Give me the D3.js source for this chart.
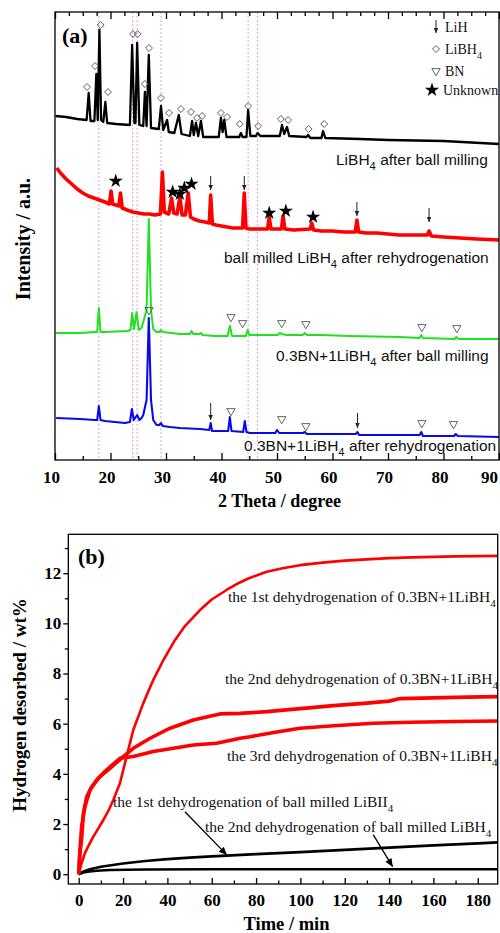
<!DOCTYPE html>
<html>
<head>
<meta charset="utf-8">
<script src="https://cdn.jsdelivr.net/npm/d3@7"></script>
<style>
body { margin: 0; background: #fff; }
svg { display: block; }
</style>
</head>
<body>
<div id="chart"></div>
<script>
/*
    (a) XRD patterns, (b) dehydrogenation curves
 */

// ---- panel (a) data: [2theta, intensity a.u.] ----
var xrd_libh4_milled = [
    [10.1, 344], [12, 343], [14, 341], [15.7, 340], [16.07, 367], [16.4, 339], [17.1, 339], [17.45, 386],
    [17.7, 340], [18.0, 430], [18.3, 340], [18.7, 338], [19.07, 358], [19.4, 337], [21, 336], [23.5, 335],
    [23.9, 415], [24.3, 337], [24.5, 337], [24.8, 417], [25.2, 335], [25.9, 334], [26.2, 368], [26.5, 334],
    [26.9, 405], [27.3, 332], [28.7, 331], [29.1, 354], [29.5, 330], [30.2, 340], [30.5, 328], [31.5, 327],
    [32.3, 345], [32.8, 326], [34.3, 324], [34.7, 339], [35.0, 325], [35.4, 337], [35.8, 324], [36.3, 339],
    [36.7, 323], [39.5, 323], [39.9, 342], [40.2, 328], [40.5, 340], [40.9, 323], [43.2, 323], [43.5, 327],
    [43.8, 323], [44.5, 323], [44.8, 350], [45.2, 324], [46.2, 324], [46.5, 327], [47, 324], [50.5, 324],
    [50.9, 335], [51.3, 326], [51.8, 333], [52.2, 324], [55.3, 323], [55.6, 325], [56, 322], [58.0, 322],
    [58.3, 329], [58.7, 322], [65, 321], [70, 320], [80, 319], [90, 316]
];
var xrd_libh4_rehyd = [
    [10.3, 292], [11, 287], [12, 281], [13, 276], [14, 271], [15, 267], [16, 264], [17, 262], [18, 260],
    [19, 258], [19.8, 256], [20.1, 269], [20.4, 256], [21.5, 254], [21.8, 267], [22.1, 252], [23, 250],
    [24, 248], [25, 247], [26, 246], [27, 246], [28, 245], [29.0, 246], [29.35, 288], [29.7, 248], [30.5, 246],
    [31.0, 262], [31.4, 247], [32.0, 246], [32.5, 263], [32.9, 245], [33.5, 245], [34.0, 267], [34.4, 243],
    [35, 241], [36, 239], [37, 238], [37.8, 237], [38.05, 265], [38.35, 236], [39, 235], [40, 234], [41, 233],
    [42, 232], [43.8, 232], [44.1, 267], [44.4, 232], [45, 231], [46, 231], [48.3, 231], [48.6, 243],
    [48.9, 231], [50.8, 231], [51.1, 244], [51.4, 231], [53, 230], [56, 231], [56.25, 237], [56.6, 230],
    [58, 229], [60, 229], [62, 228], [64.1, 228], [64.4, 240], [64.7, 228], [66, 227], [68, 227], [70, 226],
    [72, 225], [74, 225], [77.1, 225], [77.4, 229], [77.8, 224], [80, 223], [83, 222], [86, 221], [90, 220]
];
var xrd_bn_milled = [
    [10.1, 127], [14.5, 127], [17.2, 128], [17.6, 128], [17.9, 152], [18.2, 128], [19, 128], [23.1, 129],
    [23.6, 130], [23.9, 147], [24.25, 131], [24.7, 148], [25.1, 130], [25.6, 132], [26.1, 142], [26.5, 150],
    [26.9, 241], [27.3, 150], [27.7, 131], [28.3, 128], [28.8, 128], [29.1, 130], [29.4, 128], [31, 127],
    [32.5, 126], [34.3, 126], [34.6, 129], [34.9, 126], [36.0, 126], [36.3, 127], [36.6, 125], [38.8, 124],
    [41.1, 124], [41.5, 134], [41.9, 124], [43, 124], [44.4, 124], [44.7, 130], [45.0, 125], [47, 125],
    [50.1, 125], [50.5, 127], [50.9, 126], [51.7, 125], [54.6, 125], [55, 127], [55.4, 125], [58.2, 125],
    [63, 124], [72, 123], [75.7, 122], [76, 125], [76.3, 122], [82, 121], [82.3, 123], [82.7, 121], [90, 121]
];
var xrd_bn_rehyd = [
    [10.2, 42], [14.5, 41], [17.2, 40], [17.6, 40], [17.9, 54], [18.2, 40], [19.0, 39], [22.6, 37],
    [23.5, 38], [23.85, 51], [24.2, 40], [24.8, 45], [25.2, 40], [25.6, 42], [25.9, 45], [26.5, 60],
    [26.9, 142], [27.3, 60], [27.7, 40], [28.3, 35], [28.8, 35], [29.1, 37], [29.4, 34], [30.7, 33],
    [32.5, 32], [36.1, 31], [37.8, 30], [38.05, 37], [38.3, 29], [41.2, 29], [41.5, 43], [41.8, 29],
    [43.9, 28], [44.2, 39], [44.5, 28], [45.1, 27], [49.7, 27], [50, 30], [50.4, 27], [54.7, 27],
    [55, 28], [55.4, 26], [59.8, 26], [64.2, 26], [64.5, 28], [64.8, 25], [72.2, 25], [75.7, 25],
    [76, 28], [76.3, 24], [81.9, 24], [82.2, 26], [82.6, 24], [90, 23]
];
var texts_a = [
    { parts: [['LiBH'], ['4', 1], [' after ball milling']], x: 336, y: 165 },
    { parts: [['ball milled LiBH'], ['4', 1], [' after rehydrogenation']], x: 224, y: 263 },
    { parts: [['0.3BN+1LiBH'], ['4', 1], [' after ball milling']], x: 276, y: 361 },
    { parts: [['0.3BN+1LiBH'], ['4', 1], [' after rehydrogenation']], x: 244, y: 451 }
];
var marks_libh4 = [
    [15.77, 373], [17.2, 394], [18.23, 435], [19.55, 368], [24.05, 426], [24.9, 426], [26.2, 376],
    [26.94, 412], [29.1, 362], [30.54, 347], [32.7, 351], [34.5, 348], [35.6, 342], [36.5, 344],
    [39.9, 347], [41.0, 343], [43.3, 336], [44.8, 354], [46.6, 334], [50.7, 341], [52.0, 340],
    [55.7, 331], [58.5, 336]
];
var marks_unknown = [
    [20.94, 279], [31.2, 268], [32.5, 266], [33.3, 272], [34.6, 276], [48.6, 247], [51.6, 249], [56.5, 243]
];
var marks_bn = [
    [26.94, 150], [41.7, 143], [43.8, 137], [50.85, 137], [55.2, 136], [76.1, 133], [82.4, 132],
    [41.7, 49], [50.85, 41], [55.2, 34], [76.1, 37], [81.8, 36]
];
// LiH arrows: [2theta, from, to]
var marks_lih = [
    [38.05, 284, 270], [44.1, 284, 270], [64.4, 258, 244], [77.4, 252, 238],
    [38.05, 57, 40], [64.5, 47, 32]
];
var guide_lines = [17.9, 24.0, 24.8, 29.1, 44.8, 46.5];
var ticks_a = [10, 20, 30, 40, 50, 60, 70, 80, 90];

// ---- panel (b) data: time / min, hydrogen / wt% ----
var t_bn_1st = [0, 1, 2.8, 4.5, 6.6, 9, 11.1, 13.5, 15.6, 18.6, 21.6, 24.6, 29.1, 33.6, 38.2, 43.4, 48, 54.7,
    60, 66.7, 72, 76.5, 84.8, 92, 99.8, 110, 120, 130, 140, 150, 160, 170, 180, 189];
var h_bn_1st = [0, 0.35, 0.84, 1.15, 1.5, 1.85, 2.16, 2.55, 2.96, 3.63, 4.69, 5.75, 6.81, 7.74, 8.54, 9.33, 9.9,
    10.53, 10.95, 11.33, 11.6, 11.79, 12.06, 12.2, 12.32, 12.42, 12.5, 12.55, 12.6, 12.63, 12.65, 12.67, 12.68, 12.69];
var t_bn_2nd = [0, 0.5, 1.3, 2.1, 3.6, 5.9, 9.6, 14.1, 20.1, 24.6, 32.2, 41.2, 51.7, 63.7, 72.8, 84.8, 100, 115,
    130, 140, 145, 160, 175, 189];
var h_bn_2nd = [0, 0.8, 1.37, 2.43, 3.09, 3.49, 3.89, 4.22, 4.69, 5.02, 5.42, 5.82, 6.15, 6.39, 6.41, 6.48, 6.6,
    6.72, 6.82, 6.9, 7.0, 7.03, 7.06, 7.08];
var t_bn_3rd = [0, 0.5, 1.3, 2.8, 5.1, 8.1, 12.6, 18.6, 24.6, 33.6, 42.7, 51.7, 62.2, 72.8, 77.3, 88, 99.8, 115,
    132.9, 150, 170, 189];
var h_bn_3rd = [0, 0.9, 1.9, 2.69, 3.36, 3.76, 4.16, 4.62, 4.69, 4.89, 5.02, 5.15, 5.22, 5.42, 5.48, 5.65, 5.82,
    5.92, 6.02, 6.06, 6.09, 6.11];
var t_bm_1st = [0, 2, 5, 10, 20, 30, 40, 50, 60, 80, 100, 120, 140, 160, 180, 189];
var h_bm_1st = [0, 0.1, 0.2, 0.3, 0.43, 0.53, 0.6, 0.66, 0.71, 0.8, 0.88, 0.97, 1.06, 1.15, 1.23, 1.27];
var t_bm_2nd = [0, 2, 4, 8, 14, 30, 60, 100, 140, 189];
var h_bm_2nd = [0, 0.07, 0.1, 0.14, 0.17, 0.19, 0.2, 0.2, 0.2, 0.2];
var ticks_b_x = [0, 20, 40, 60, 80, 100, 120, 140, 160, 180];
var ticks_b_y = [0, 2, 4, 6, 8, 10, 12];
var texts_b = [
    { parts: [['the 1st dehydrogenation of 0.3BN+1LiBH'], ['4', 1]], x: 228, y: 602 },
    { parts: [['the 2nd dehydrogenation of 0.3BN+1LiBH'], ['4', 1]], x: 225, y: 684 },
    { parts: [['the 3rd dehydrogenation of 0.3BN+1LiBH'], ['4', 1]], x: 227, y: 761 },
    { parts: [['the 1st dehydrogenation of ball milled LiBII'], ['4', 1]], x: 113, y: 807 },
    { parts: [['the 2nd dehydrogenation of ball milled LiBH'], ['4', 1]], x: 205, y: 832 }
];
// pointer arrows: [t0, h0, t1, h1]
var pointers_b = [[47.9, 2.49, 66.8, 0.77], [132.9, 1.57, 141.6, 0.3]];

var SERIF = "'Liberation Serif', 'Times New Roman', serif";
var SANS = "'Liberation Sans', Arial, sans-serif";

var svg = d3.select('#chart')
    .append('svg')
    .attr('width', 500)
    .attr('height', 933);

function add_text(g, d, font, size) {
    var t = g.append('text')
        .attr('x', d.x)
        .attr('y', d.y)
        .style('font-family', font)
        .style('font-size', size + 'px')
        .attr('fill', '#111');
    var shifted = false;
    d.parts.forEach(function(p) {
        var s = t.append('tspan').text(p[0]);
        if (p[1]) {
            s.attr('dy', 5).style('font-size', (size * 0.72) + 'px');
            shifted = true;
        } else if (shifted) {
            s.attr('dy', -5);
            shifted = false;
        }
    });
    return t;
}

function draw_arrow(g, x1, y1, x2, y2, color, width, head) {
    g.append('line')
        .attr('x1', x1).attr('y1', y1)
        .attr('x2', x2).attr('y2', y2)
        .attr('stroke', color)
        .attr('stroke-width', width);
    var ang = Math.atan2(y2 - y1, x2 - x1);
    var hl = head, hw = head * 0.45;
    var bx = x2 - hl * Math.cos(ang), by = y2 - hl * Math.sin(ang);
    g.append('path')
        .attr('d', 'M' + x2 + ',' + y2 +
            'L' + (bx + hw * Math.sin(ang)) + ',' + (by - hw * Math.cos(ang)) +
            'L' + (bx - hw * Math.sin(ang)) + ',' + (by + hw * Math.cos(ang)) + 'Z')
        .attr('fill', color);
}

/* ---------------- panel (a) ---------------- */
var x_a = d3.scaleLinear().domain([10, 90]).range([55, 499]);
var y_a = d3.scaleLinear().domain([0, 448]).range([460, 12]);

var panel_a = svg.append('g');

panel_a.selectAll('.guide')
    .data(guide_lines)
    .enter()
    .append('line')
    .classed('guide', true)
    .attr('x1', function(d) { return x_a(d); })
    .attr('x2', function(d) { return x_a(d); })
    .attr('y1', y_a.range()[1])
    .attr('y2', y_a.range()[0])
    .attr('stroke', '#e79be7')
    .attr('stroke-width', 1)
    .attr('stroke-dasharray', '2,2');

var line_a = d3.line()
    .x(function(d) { return x_a(d[0]); })
    .y(function(d) { return y_a(d[1]); });

var patterns = [
    { data: xrd_libh4_milled, color: '#000000', w: 2.3 },
    { data: xrd_libh4_rehyd, color: '#ff0000', w: 3.6 },
    { data: xrd_bn_milled, color: '#22e022', w: 2 },
    { data: xrd_bn_rehyd, color: '#0a0ae6', w: 2.1 }
];
panel_a.selectAll('.pattern')
    .data(patterns)
    .enter()
    .append('path')
    .classed('pattern', true)
    .attr('d', function(d) { return line_a(d.data); })
    .attr('fill', 'none')
    .attr('stroke', function(d) { return d.color; })
    .attr('stroke-width', function(d) { return d.w; })
    .attr('stroke-linejoin', 'round');

var diamond = d3.symbol(d3.symbolSquare, 24);
var triangle = d3.symbol(d3.symbolTriangle, 30);
var star = d3.symbol(d3.symbolStar, 62);

panel_a.selectAll('.libh4')
    .data(marks_libh4)
    .enter()
    .append('path')
    .attr('d', diamond)
    .attr('transform', function(d) { return 'translate(' + x_a(d[0]) + ',' + y_a(d[1]) + ') rotate(45)'; })
    .attr('fill', 'none')
    .attr('stroke', '#555')
    .attr('stroke-width', 0.9);

panel_a.selectAll('.bn')
    .data(marks_bn)
    .enter()
    .append('path')
    .attr('d', triangle)
    .attr('transform', function(d) { return 'translate(' + x_a(d[0]) + ',' + y_a(d[1]) + ') rotate(180)'; })
    .attr('fill', 'none')
    .attr('stroke', '#555')
    .attr('stroke-width', 0.9);

panel_a.selectAll('.unknown')
    .data(marks_unknown)
    .enter()
    .append('path')
    .attr('d', star)
    .attr('transform', function(d) { return 'translate(' + x_a(d[0]) + ',' + y_a(d[1]) + ')'; })
    .attr('fill', '#000');

marks_lih.forEach(function(d) {
    draw_arrow(panel_a, x_a(d[0]), y_a(d[1]), x_a(d[0]), y_a(d[2]), '#222', 1, 5);
});

texts_a.forEach(function(d) { add_text(panel_a, d, SANS, 15.5); });

// legend
var legend = panel_a.append('g');
draw_arrow(legend, 436, 20, 436, 33, '#222', 1, 5);
legend.append('path').attr('d', diamond).attr('transform', 'translate(436,49) rotate(45)')
    .attr('fill', 'none').attr('stroke', '#555').attr('stroke-width', 0.9);
legend.append('path').attr('d', triangle).attr('transform', 'translate(436,71) rotate(180)')
    .attr('fill', 'none').attr('stroke', '#555').attr('stroke-width', 0.9);
legend.append('path').attr('d', star).attr('transform', 'translate(432,90)').attr('fill', '#000');
[
    { parts: [['LiH']], x: 445, y: 32 },
    { parts: [['LiBH'], ['4', 1]], x: 445, y: 54 },
    { parts: [['BN']], x: 445, y: 76 },
    { parts: [['Unknown']], x: 443, y: 95 }
].forEach(function(d) { add_text(legend, d, SERIF, 14); });

// frame and ticks
panel_a.append('rect')
    .attr('x', 55).attr('y', 12)
    .attr('width', 444).attr('height', 448)
    .attr('fill', 'none')
    .attr('stroke', '#000')
    .attr('stroke-width', 1.3);

var minor_a = d3.range(15, 90, 10);
var top_minor_a = d3.range(12.5, 90, 2.5).filter(function(v) { return v % 10 !== 0; });

var axis_a_bottom = svg.append('g')
    .attr('transform', 'translate(0,460)')
    .call(d3.axisBottom(x_a).tickValues(ticks_a).tickSizeInner(-7).tickSizeOuter(0).tickPadding(11));
axis_a_bottom.append('g')
    .call(d3.axisBottom(x_a).tickValues(minor_a).tickSizeInner(-4).tickSizeOuter(0).tickFormat(''));

var axis_a_top = svg.append('g')
    .attr('transform', 'translate(0,12)')
    .call(d3.axisTop(x_a).tickValues(ticks_a).tickSizeInner(-7).tickSizeOuter(0).tickFormat(''));
axis_a_top.append('g')
    .call(d3.axisTop(x_a).tickValues(top_minor_a).tickSizeInner(-4).tickSizeOuter(0).tickFormat(''));

svg.selectAll('.domain').remove();
axis_a_bottom.selectAll('.tick line').attr('stroke-width', 1.3);
axis_a_top.selectAll('.tick line').attr('stroke-width', 1.3);
axis_a_bottom.selectAll('text')
    .attr('dx', function(d) { return d === 90 ? -10 : -4; })
    .style('font-family', SERIF)
    .style('font-size', '17px')
    .style('font-weight', 'bold')
    .attr('fill', '#000');

panel_a.append('text')
    .attr('x', 279.5).attr('y', 507)
    .attr('text-anchor', 'middle')
    .style('font-family', SERIF).style('font-size', '18px').style('font-weight', 'bold')
    .text('2 Theta / degree');

panel_a.append('text')
    .attr('transform', 'translate(30,239) rotate(-90)')
    .attr('text-anchor', 'middle')
    .style('font-family', SERIF).style('font-size', '20px').style('font-weight', 'bold')
    .text('Intensity / a.u.');

panel_a.append('text')
    .attr('x', 62).attr('y', 43)
    .style('font-family', SERIF).style('font-size', '22px').style('font-weight', 'bold')
    .text('(a)');

/* ---------------- panel (b) ---------------- */
var x_b = d3.scaleLinear().domain([-4.7, 189]).range([68.3, 497.7]);
var y_b = d3.scaleLinear().domain([-0.39, 13.55]).range([884, 534.3]);

var panel_b = svg.append('g');

var line_b = d3.line()
    .x(function(d) { return x_b(d[0]); })
    .y(function(d) { return y_b(d[1]); });

function zip(t, h) { return t.map(function(v, i) { return [v, h[i]]; }); }

var curves = [
    { data: zip(t_bm_2nd, h_bm_2nd), color: '#000', w: 2.6 },
    { data: zip(t_bm_1st, h_bm_1st), color: '#000', w: 2.6 },
    { data: zip(t_bn_3rd, h_bn_3rd), color: '#ff0000', w: 3.6 },
    { data: zip(t_bn_2nd, h_bn_2nd), color: '#ff0000', w: 3.6 },
    { data: zip(t_bn_1st, h_bn_1st), color: '#ff0000', w: 2.6 }
];
panel_b.selectAll('.curve')
    .data(curves)
    .enter()
    .append('path')
    .classed('curve', true)
    .attr('d', function(d) { return line_b(d.data); })
    .attr('fill', 'none')
    .attr('stroke', function(d) { return d.color; })
    .attr('stroke-width', function(d) { return d.w; })
    .attr('stroke-linejoin', 'round');

texts_b.forEach(function(d) { add_text(panel_b, d, SERIF, 15.5); });

pointers_b.forEach(function(d) {
    draw_arrow(panel_b, x_b(d[0]), y_b(d[1]), x_b(d[2]), y_b(d[3]), '#000', 1.3, 8);
});

panel_b.append('rect')
    .attr('x', 68.3).attr('y', 534.3)
    .attr('width', 429.4).attr('height', 349.7)
    .attr('fill', 'none')
    .attr('stroke', '#000')
    .attr('stroke-width', 1.3);

var axis_b_x = svg.append('g')
    .attr('transform', 'translate(0,884)')
    .call(d3.axisBottom(x_b).tickValues(ticks_b_x).tickSizeInner(-6).tickSizeOuter(0).tickPadding(10));
axis_b_x.append('g')
    .call(d3.axisBottom(x_b).tickValues(d3.range(10, 189, 20)).tickSizeInner(-3.5).tickSizeOuter(0).tickFormat(''));

var axis_b_y = svg.append('g')
    .attr('transform', 'translate(68.3,0)')
    .call(d3.axisLeft(y_b).tickValues(ticks_b_y).tickSizeInner(5).tickSizeOuter(0).tickPadding(2));
axis_b_y.append('g')
    .call(d3.axisLeft(y_b).tickValues(d3.range(1, 14, 2)).tickSizeInner(3.5).tickSizeOuter(0).tickFormat(''));

svg.selectAll('.domain').remove();
[axis_b_x, axis_b_y].forEach(function(a) {
    a.selectAll('.tick line').attr('stroke-width', 1.3);
    a.selectAll('text')
        .style('font-family', SERIF)
        .style('font-size', '17px')
        .style('font-weight', 'bold')
        .attr('fill', '#000');
});

panel_b.append('text')
    .attr('x', 286.5).attr('y', 930)
    .attr('text-anchor', 'middle')
    .style('font-family', SERIF).style('font-size', '18.5px').style('font-weight', 'bold')
    .text('Time / min');

panel_b.append('text')
    .attr('transform', 'translate(26,705) rotate(-90)')
    .attr('text-anchor', 'middle')
    .style('font-family', SERIF).style('font-size', '19px').style('font-weight', 'bold')
    .text('Hydrogen desorbed / wt%');

panel_b.append('text')
    .attr('x', 78).attr('y', 564)
    .style('font-family', SERIF).style('font-size', '22px').style('font-weight', 'bold')
    .text('(b)');
</script>
</body>
</html>
